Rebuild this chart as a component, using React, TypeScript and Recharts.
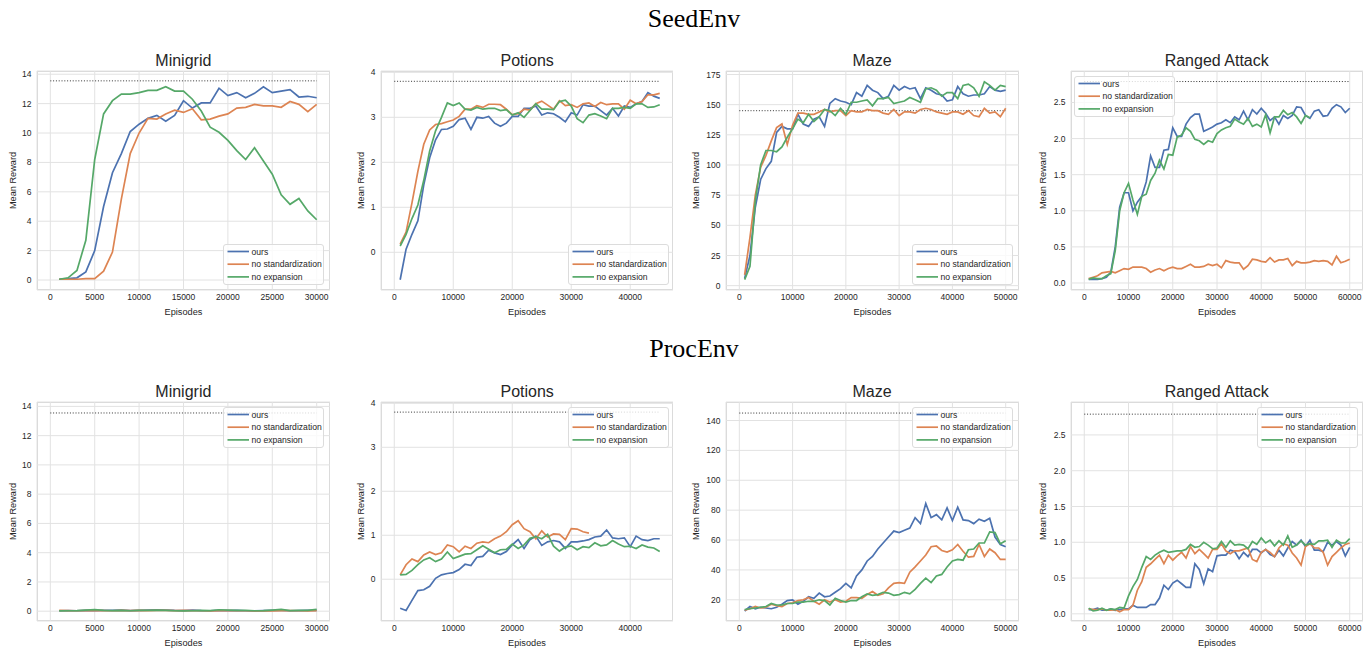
import React from 'react';
import { LineChart, Line, XAxis, YAxis, CartesianGrid } from 'recharts';

// ---------- data ----------
const EPISODES = [
  1000, 2000, 3000, 4000, 5000, 6000, 7000, 8000, 9000, 10000,
  11000, 12000, 13000, 14000, 15000, 16000, 17000, 18000, 19000, 20000,
  21000, 22000, 23000, 24000, 25000, 26000, 27000, 28000, 29000, 30000,
  31000, 32000, 33000, 34000, 35000, 36000, 37000, 38000, 39000, 40000,
  41000, 42000, 43000, 44000, 45000, 46000, 47000, 48000, 49000, 50000,
  51000, 52000, 53000, 54000, 55000, 56000, 57000, 58000, 59000, 60000,
];

const SERIES_NAMES = ['ours', 'no standardization', 'no expansion'];
const SECTION_TITLES = ['SeedEnv', 'ProcEnv'];
const ENV_TITLES = ['Minigrid', 'Potions', 'Maze', 'Ranged Attack'];

// SeedEnv
const seedMinigridOurs = [0.05, 0.1, 0.15, 0.55, 2.0, 5.0, 7.3, 8.6, 10.1, 10.6, 11.0, 11.2, 10.8, 11.2, 12.2, 11.7, 12.05, 12.05, 13.05, 12.55, 12.75, 12.4, 12.7, 13.15, 12.75, 12.85, 12.95, 12.45, 12.5, 12.4];
const seedMinigridNoStd = [0.05, 0.05, 0.05, 0.1, 0.1, 0.6, 1.9, 5.5, 8.6, 10.0, 11.0, 10.95, 11.3, 11.55, 11.4, 11.65, 10.9, 10.95, 11.15, 11.3, 11.7, 11.75, 11.95, 11.85, 11.85, 11.75, 12.15, 11.95, 11.45, 11.95];
const seedMinigridNoExp = [0.05, 0.15, 0.65, 2.7, 8.2, 11.3, 12.2, 12.65, 12.65, 12.75, 12.9, 12.9, 13.15, 12.85, 12.85, 12.3, 11.5, 10.4, 10.05, 9.5, 8.8, 8.2, 9.0, 8.1, 7.2, 5.8, 5.15, 5.55, 4.7, 4.1];

const seedPotionsOurs = [-0.61, 0.07, 0.4, 0.7, 1.5, 2.1, 2.5, 2.73, 2.74, 2.8, 2.95, 2.98, 2.73, 3.0, 2.98, 3.02, 2.87, 2.8, 2.87, 3.02, 3.02, 3.2, 3.2, 3.25, 3.05, 3.1, 3.08, 3.0, 2.9, 3.1, 3.05, 3.28, 3.25, 3.25, 3.15, 3.05, 3.2, 3.03, 3.25, 3.22, 3.3, 3.35, 3.55, 3.47, 3.42];
const seedPotionsNoStd = [0.18, 0.45, 1.1, 1.8, 2.4, 2.72, 2.84, 2.86, 2.9, 2.94, 3.02, 3.18, 3.18, 3.26, 3.22, 3.29, 3.29, 3.28, 3.18, 3.06, 3.08, 3.18, 3.16, 3.3, 3.36, 3.27, 3.18, 3.37, 3.26, 3.28, 3.22, 3.3, 3.32, 3.24, 3.33, 3.28, 3.3, 3.3, 3.18, 3.38, 3.3, 3.35, 3.5, 3.5, 3.53];
const seedPotionsNoExp = [0.14, 0.4, 0.75, 1.05, 1.6, 2.25, 2.7, 3.0, 3.32, 3.26, 3.32, 3.18, 3.16, 3.22, 3.18, 3.2, 3.2, 3.15, 3.17, 3.05, 3.1, 3.0, 3.15, 3.3, 3.18, 3.18, 3.17, 3.35, 3.38, 3.25, 2.97, 2.88, 3.05, 3.08, 3.03, 2.97, 3.2, 3.2, 3.22, 3.2, 3.3, 3.3, 3.22, 3.23, 3.28];

const seedMazeOurs = [6, 25, 65, 88, 97, 103, 127, 132, 130, 130, 142, 134, 132, 138, 140, 132, 151, 155, 153, 152, 150, 160, 157, 166, 162, 160, 155, 157, 166, 162, 165, 163, 164, 155, 164, 162, 159, 158, 153, 154, 165, 159, 157, 158, 158, 159, 165, 162, 161, 162];
const seedMazeNoStd = [9, 40, 75, 98, 108, 120, 131, 134, 117, 133, 143, 143, 142, 142, 144, 146, 144, 145, 145, 141, 145, 144, 144, 146, 145, 145, 143, 142, 146, 141, 144, 144, 143, 146, 147, 146, 144, 143, 142, 144, 144, 142, 145, 141, 140, 147, 143, 144, 140, 147];
const seedMazeNoExp = [5, 16, 70, 100, 112, 112, 111, 115, 123, 130, 138, 135, 142, 136, 140, 146, 145, 141, 147, 142, 152, 152, 153, 154, 149, 155, 155, 156, 151, 152, 153, 156, 154, 152, 163, 164, 162, 157, 160, 160, 155, 166, 167, 164, 157, 169, 166, 162, 166, 165];

const seedRangedOurs = [0.05, 0.05, 0.05, 0.06, 0.08, 0.15, 0.5, 1.05, 1.25, 1.25, 1.0, 1.12, 1.2, 1.4, 1.76, 1.6, 1.6, 1.84, 1.85, 2.15, 2.03, 2.03, 2.2, 2.29, 2.34, 2.34, 2.1, 2.13, 2.16, 2.2, 2.22, 2.26, 2.22, 2.3, 2.26, 2.38, 2.26, 2.4, 2.34, 2.42, 2.35, 2.25, 2.3, 2.2, 2.32, 2.28, 2.32, 2.44, 2.43, 2.32, 2.28, 2.38, 2.4, 2.31, 2.32, 2.42, 2.47, 2.44, 2.36, 2.42];
const seedRangedNoStd = [0.06, 0.08, 0.1, 0.14, 0.15, 0.16, 0.14, 0.17, 0.2, 0.19, 0.22, 0.22, 0.22, 0.2, 0.15, 0.18, 0.2, 0.17, 0.2, 0.22, 0.2, 0.2, 0.23, 0.26, 0.22, 0.22, 0.23, 0.26, 0.24, 0.26, 0.21, 0.31, 0.29, 0.28, 0.28, 0.19, 0.24, 0.33, 0.32, 0.3, 0.29, 0.35, 0.29, 0.32, 0.32, 0.34, 0.24, 0.3, 0.28, 0.28, 0.29, 0.31, 0.3, 0.31, 0.3, 0.25, 0.37, 0.28, 0.3, 0.33];
const seedRangedNoExp = [0.05, 0.07, 0.06, 0.06, 0.1, 0.13, 0.45, 1.0, 1.25, 1.38, 1.15, 0.95, 1.2, 1.23, 1.42, 1.52, 1.7, 1.58, 1.78, 1.77, 2.02, 2.05, 2.15, 2.1, 1.99, 1.97, 1.92, 1.97, 1.95, 2.07, 2.12, 2.15, 2.17, 2.27, 2.23, 2.2, 2.28, 2.17, 2.2, 2.16, 2.33, 2.08, 2.3, 2.3, 2.39, 2.33, 2.36, 2.3, 2.21, 2.32, 2.29];

// ProcEnv
const procMinigridOurs = [0.03, 0.04, 0.03, 0.05, 0.04, 0.06, 0.05, 0.07, 0.04, 0.06, 0.08, 0.1, 0.08, 0.05, 0.04, 0.08, 0.04, 0.03, 0.05, 0.04, 0.05, 0.03, 0.02, 0.04, 0.05, 0.06, 0.03, 0.04, 0.05, 0.06];
const procMinigridNoStd = [0.05, 0.04, 0.03, 0.04, 0.05, 0.04, 0.03, 0.05, 0.04, 0.05, 0.04, 0.06, 0.05, 0.04, 0.05, 0.04, 0.03, 0.02, 0.03, 0.04, 0.03, 0.03, 0.02, 0.03, 0.02, 0.03, 0.04, 0.03, 0.02, 0.03];
const procMinigridNoExp = [0.02, 0.03, 0.04, 0.07, 0.11, 0.05, 0.04, 0.06, 0.03, 0.05, 0.06, 0.08, 0.06, 0.03, 0.02, 0.03, 0.05, 0.04, 0.1, 0.08, 0.05, 0.06, 0.03, 0.04, 0.08, 0.12, 0.04, 0.06, 0.05, 0.12];

const procPotionsOurs = [-0.66, -0.71, -0.48, -0.26, -0.24, -0.16, 0.02, 0.1, 0.13, 0.15, 0.22, 0.34, 0.31, 0.5, 0.52, 0.66, 0.6, 0.56, 0.63, 0.78, 0.9, 0.7, 0.9, 0.98, 0.77, 0.85, 0.88, 0.85, 0.7, 0.85, 0.85, 0.87, 0.9, 0.96, 0.98, 1.12, 0.94, 0.92, 0.94, 0.74, 0.98, 0.9, 0.88, 0.92, 0.92];
const procPotionsNoStd = [0.1, 0.33, 0.46, 0.4, 0.55, 0.62, 0.56, 0.6, 0.78, 0.74, 0.62, 0.75, 0.7, 0.82, 0.85, 0.83, 0.92, 0.98, 1.08, 1.24, 1.33, 1.15, 1.08, 0.92, 1.1, 0.96, 1.03, 1.02, 0.9, 1.15, 1.14, 1.08, 1.05];
const procPotionsNoExp = [0.1, 0.11, 0.2, 0.33, 0.44, 0.49, 0.4, 0.46, 0.62, 0.47, 0.52, 0.57, 0.58, 0.67, 0.76, 0.68, 0.6, 0.67, 0.68, 0.8, 0.7, 0.78, 0.93, 0.97, 0.92, 1.02, 0.75, 0.64, 0.73, 0.76, 0.67, 0.74, 0.72, 0.83, 0.76, 0.78, 0.88, 0.8, 0.74, 0.75, 0.7, 0.78, 0.73, 0.71, 0.63];

const procMazeOurs = [12.5, 15.5, 14, 15, 14.5, 14, 15, 17, 19.5, 20, 17, 19, 22, 21, 24.5, 22, 22.5, 25, 27.5, 31, 28, 36, 40, 46, 49, 54, 58, 62, 66, 65, 66.5, 68, 75, 71, 84.5, 75, 77, 73.5, 81.5, 73, 82, 73.5, 73, 71, 74, 72.5, 74.5, 62, 57, 55.5];
const procMazeNoStd = [13, 14, 15.5, 14.5, 15, 17, 16, 15.5, 17.5, 18, 19.5, 20, 21.5, 19, 17, 20, 18.5, 20, 18.5, 19, 21.5, 21.5, 21, 23.5, 25.5, 23, 24, 28, 31, 31.5, 31, 38.5, 42, 46, 50, 55.5, 56, 53, 52, 53.5, 57, 52.5, 48.5, 49, 57, 49, 54, 51.5, 47, 47];
const procMazeNoExp = [13.5, 14, 14.5, 15, 15.5, 17.5, 16.5, 16.5, 17.5, 17.5, 18.5, 18.5, 19, 19, 20, 19.5, 16.5, 21, 19.5, 18.5, 19.5, 19.5, 22, 24, 23, 23.5, 25, 24.5, 23, 23.5, 25, 24, 27, 31, 34.5, 31.5, 36, 37, 42, 46, 47, 46.5, 53.5, 54, 58, 58, 65.5, 65, 57.5, 59.5];

const procRangedOurs = [0.06, 0.06, 0.08, 0.05, 0.05, 0.07, 0.05, 0.06, 0.07, 0.07, 0.12, 0.09, 0.09, 0.09, 0.13, 0.13, 0.22, 0.4, 0.34, 0.43, 0.47, 0.42, 0.37, 0.37, 0.7, 0.62, 0.42, 0.63, 0.59, 0.81, 0.82, 0.82, 0.89, 0.87, 0.77, 0.86, 0.8, 0.9, 0.9, 0.85, 0.9, 0.83, 0.8, 0.89, 0.81, 0.92, 1.01, 0.96, 1.03, 0.94, 1.03, 0.89, 0.89, 0.87, 1.0, 0.96, 1.01, 0.96, 0.81, 0.93];
const procRangedNoStd = [0.07, 0.06, 0.06, 0.07, 0.05, 0.05, 0.06, 0.03, 0.06, 0.06, 0.12, 0.33, 0.45, 0.65, 0.7, 0.76, 0.82, 0.7, 0.82, 0.75, 0.81, 0.86, 0.78, 0.94, 0.84, 0.9, 0.84, 0.78, 0.9, 0.9, 0.98, 0.88, 0.84, 0.88, 0.88, 0.9, 0.92, 0.76, 0.73, 0.86, 0.9, 0.86, 0.8, 0.92, 0.98, 0.96, 0.85, 0.78, 0.68, 0.94, 0.98, 0.92, 0.92, 0.86, 0.68, 0.8, 0.86, 0.92, 0.97, 0.99];
const procRangedNoExp = [0.08, 0.04, 0.05, 0.08, 0.05, 0.07, 0.06, 0.09, 0.08, 0.25, 0.38, 0.48, 0.65, 0.8, 0.76, 0.82, 0.86, 0.89, 0.86, 0.87, 0.88, 0.88, 0.9, 0.97, 0.93, 0.94, 1.0, 0.96, 0.91, 0.92, 1.01, 0.93, 1.02, 0.96, 0.97, 0.96, 0.91, 1.01, 0.97, 1.06, 0.99, 1.03, 0.95, 1.02, 0.96, 1.09, 0.93, 0.96, 1.02, 0.96, 0.98, 0.97, 1.02, 1.02, 1.03, 0.93, 1.03, 0.99, 0.99, 1.05];

// optimal-reward reference levels (dotted lines) and episode ranges
const MINIGRID_OPTIMAL = 13.55;
const POTIONS_OPTIMAL = 3.8;
const MAZE_OPTIMAL = 145;
const RANGED_OPTIMAL = 2.79;
const MAX_EPISODES = [30000, 45000, 50000, 60000];

const X_TICKS = [
  [0, 5000, 10000, 15000, 20000, 25000, 30000],
  [0, 10000, 20000, 30000, 40000],
  [0, 10000, 20000, 30000, 40000, 50000],
  [0, 10000, 20000, 30000, 40000, 50000, 60000],
];
const Y_TICKS_MINIGRID = [0, 2, 4, 6, 8, 10, 12, 14];
const Y_TICKS_POTIONS = [0, 1, 2, 3, 4];
const Y_TICKS_SEED_MAZE = [0, 25, 50, 75, 100, 125, 150, 175];
const Y_TICKS_PROC_MAZE = [20, 40, 60, 80, 100, 120, 140];
const Y_TICKS_RANGED = [0, 0.5, 1.0, 1.5, 2.0, 2.5];

// ---------- styling ----------
const COLORS = ['#4c72b0', '#dd8452', '#55a868'];
const FONT = '"Liberation Sans", Arial, Helvetica, sans-serif';
const TEXT = '#262626';

const toPoints = (vals: number[]) => vals.map((y, i) => ({ x: EPISODES[i], y }));

const COLS = [
  { left: 36.7, right: 330, xDomain: [-1500, 31500] },
  { left: 381, right: 673.3, xDomain: [-2250, 47250] },
  { left: 725.7, right: 1018.3, xDomain: [-2500, 52500] },
  { left: 1070.7, right: 1362.7, xDomain: [-3000, 63000] },
];
const ROWS = [
  { top: 71, bottom: 290, titleY: 65.7 },
  { top: 402, bottom: 620.5, titleY: 396.7 },
];
const Y_LABEL_DIST = [24.4, 20.3, 30, 28.4];

type PanelDef = {
  row: number;
  col: number;
  yDomain: number[];
  yTicks: number[];
  decimals: number;
  optimal: number;
  series: number[][];
  legend: { x: number; y: number };
};

const PANELS: PanelDef[] = [
  { row: 0, col: 0, yDomain: [-0.68, 14.22], yTicks: Y_TICKS_MINIGRID, decimals: 0, optimal: MINIGRID_OPTIMAL, series: [seedMinigridOurs, seedMinigridNoStd, seedMinigridNoExp], legend: { x: 223, y: 244 } },
  { row: 0, col: 1, yDomain: [-0.838, 4.029], yTicks: Y_TICKS_POTIONS, decimals: 0, optimal: POTIONS_OPTIMAL, series: [seedPotionsOurs, seedPotionsNoStd, seedPotionsNoExp], legend: { x: 568, y: 244 } },
  { row: 0, col: 2, yDomain: [-3.6, 177.9], yTicks: Y_TICKS_SEED_MAZE, decimals: 0, optimal: MAZE_OPTIMAL, series: [seedMazeOurs, seedMazeNoStd, seedMazeNoExp], legend: { x: 912, y: 244 } },
  { row: 0, col: 3, yDomain: [-0.097, 2.936], yTicks: Y_TICKS_RANGED, decimals: 1, optimal: RANGED_OPTIMAL, series: [seedRangedOurs, seedRangedNoStd, seedRangedNoExp], legend: { x: 1074, y: 76 } },
  { row: 1, col: 0, yDomain: [-0.67, 14.3], yTicks: Y_TICKS_MINIGRID, decimals: 0, optimal: MINIGRID_OPTIMAL, series: [procMinigridOurs, procMinigridNoStd, procMinigridNoExp], legend: { x: 223, y: 407 } },
  { row: 1, col: 1, yDomain: [-0.95, 4.03], yTicks: Y_TICKS_POTIONS, decimals: 0, optimal: POTIONS_OPTIMAL, series: [procPotionsOurs, procPotionsNoStd, procPotionsNoExp], legend: { x: 568, y: 407 } },
  { row: 1, col: 2, yDomain: [5.8, 152.4], yTicks: Y_TICKS_PROC_MAZE, decimals: 0, optimal: MAZE_OPTIMAL, series: [procMazeOurs, procMazeNoStd, procMazeNoExp], legend: { x: 912, y: 407 } },
  { row: 1, col: 3, yDomain: [-0.1, 2.96], yTicks: Y_TICKS_RANGED, decimals: 1, optimal: RANGED_OPTIMAL, series: [procRangedOurs, procRangedNoStd, procRangedNoExp], legend: { x: 1257, y: 407 } },
];

const W_Y = 40;
const H_X = 30;
const PAD_T = 8;

function LegendBox({ x, y }: { x: number; y: number }) {
  return (
    <div
      style={{
        position: 'absolute', left: x, top: y, width: 101, height: 41, boxSizing: 'border-box',
        border: '1px solid #dcdcdc', borderRadius: 3, background: 'rgba(255,255,255,0.8)',
      }}
    >
      <svg width={30} height={39} style={{ position: 'absolute', left: 0, top: 0 }}>
        {SERIES_NAMES.map((name, i) => (
          <line key={name} x1={3.5} x2={25} y1={6.5 + i * 12.7} y2={6.5 + i * 12.7} stroke={COLORS[i]} strokeWidth={1.7} />
        ))}
      </svg>
      {SERIES_NAMES.map((name, i) => (
        <span
          key={name}
          style={{
            position: 'absolute', left: 27.5, top: 0.5 + i * 12.7, fontSize: 8.6, lineHeight: '12px',
            color: TEXT, whiteSpace: 'nowrap', fontFamily: FONT,
          }}
        >
          {name}
        </span>
      ))}
    </div>
  );
}

function Panel({ p }: { p: PanelDef }) {
  const c = COLS[p.col];
  const r = ROWS[p.row];
  const w = Math.round(c.right - c.left);
  const h = Math.round(r.bottom - r.top);
  const maxEp = MAX_EPISODES[p.col];
  const optData = [{ x: 0, y: p.optimal }, { x: maxEp, y: p.optimal }];
  const tickStyle = { fontSize: 8.5, fill: TEXT, fontFamily: FONT };
  return (
    <>
      <div
        style={{
          position: 'absolute', left: c.left, top: r.top, width: w, height: h,
          boxSizing: 'border-box', border: '1px solid #d4d4d4',
        }}
      />
      <div style={{ position: 'absolute', left: c.left - W_Y, top: r.top - PAD_T }}>
        <LineChart width={W_Y + w} height={h + H_X + PAD_T} margin={{ top: PAD_T, right: 0, bottom: 0, left: 0 }}>
          <CartesianGrid stroke="#e2e2e2" strokeWidth={1} />
          <XAxis
            type="number"
            dataKey="x"
            domain={c.xDomain}
            ticks={X_TICKS[p.col]}
            interval={0}
            allowDataOverflow
            tickLine={false}
            axisLine={false}
            tickSize={0}
            tickMargin={4}
            height={H_X}
            tick={tickStyle}
            label={{ value: 'Episodes', position: 'insideBottom', offset: 5.5, fontSize: 9.2, fill: TEXT, fontFamily: FONT }}
          />
          <YAxis
            type="number"
            dataKey="y"
            domain={p.yDomain}
            ticks={p.yTicks}
            interval={0}
            allowDataOverflow
            tickLine={false}
            axisLine={false}
            tickSize={0}
            tickMargin={5.5}
            width={W_Y}
            tick={tickStyle}
            tickFormatter={(v: number) => v.toFixed(p.decimals)}
            label={{
              value: 'Mean Reward', angle: -90, position: 'insideLeft', offset: W_Y - Y_LABEL_DIST[p.col],
              fontSize: 9.2, fill: TEXT, fontFamily: FONT, style: { textAnchor: 'middle' },
            }}
          />
          <Line
            data={optData}
            dataKey="y"
            stroke="#333333"
            strokeWidth={1}
            strokeDasharray="1 1.8"
            dot={false}
            activeDot={false}
            isAnimationActive={false}
          />
          {p.series.map((vals, i) => (
            <Line
              key={SERIES_NAMES[i]}
              data={toPoints(vals)}
              dataKey="y"
              name={SERIES_NAMES[i]}
              stroke={COLORS[i]}
              strokeWidth={1.7}
              dot={false}
              activeDot={false}
              isAnimationActive={false}
            />
          ))}
        </LineChart>
      </div>
      <LegendBox x={p.legend.x} y={p.legend.y} />
    </>
  );
}

export default function App() {
  return (
    <div style={{ position: 'absolute', left: 0, top: 0, width: 1372, height: 654, background: '#ffffff', fontFamily: FONT }}>
      <svg width={1372} height={654} style={{ position: 'absolute', left: 0, top: 0 }}>
        <text x={694} y={26.7} textAnchor="middle" fontFamily='"Liberation Serif", "Times New Roman", serif' fontSize={26} fill="#000">
          {SECTION_TITLES[0]}
        </text>
        <text x={694} y={356.7} textAnchor="middle" fontFamily='"Liberation Serif", "Times New Roman", serif' fontSize={26} fill="#000">
          {SECTION_TITLES[1]}
        </text>
        {ROWS.map((r, ri) =>
          COLS.map((c, ci) => (
            <text
              key={`${ri}-${ci}`}
              x={(c.left + c.right) / 2}
              y={r.titleY}
              textAnchor="middle"
              fontFamily={FONT}
              fontSize={16}
              fill={TEXT}
            >
              {ENV_TITLES[ci]}
            </text>
          ))
        )}
      </svg>
      {PANELS.map((p) => (
        <Panel key={`${p.row}-${p.col}`} p={p} />
      ))}
    </div>
  );
}
